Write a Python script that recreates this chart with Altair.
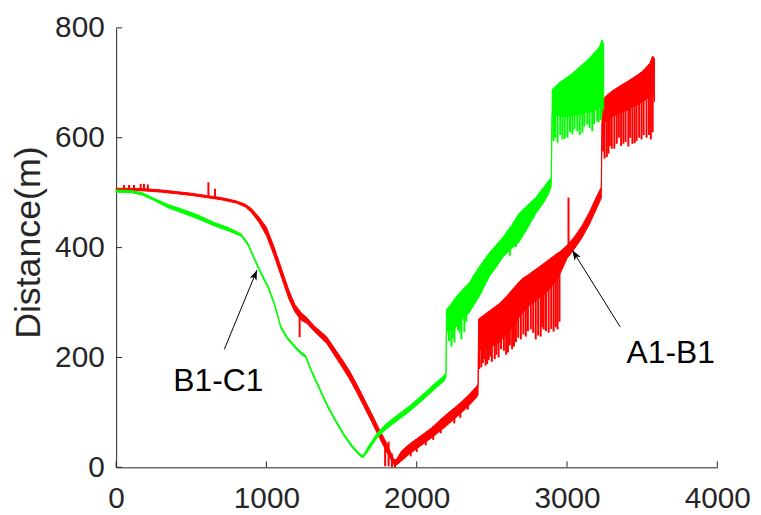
import math
import altair as alt
import pandas as pd

RED = "#FF0000"
GREEN = "#00FF00"
INK = "#262626"
FONT = "Liberation Sans"

# ---------------- A1-B1 (red) : band (upper / lower edge) ----------------
red_x = [0, 100, 200, 300, 400, 500, 600, 700, 800, 860, 900, 950, 1000, 1050, 1100, 1150, 1190, 1230,
         1270, 1320, 1400, 1450, 1500, 1550, 1600, 1650, 1700, 1750, 1800, 1855, 1900, 1950, 2000, 2050,
         2100, 2150, 2200, 2250, 2300, 2350, 2400, 2408,
         2412, 2450, 2500, 2550, 2600, 2650, 2700, 2750, 2800, 2850, 2900, 2950, 3000, 3050, 3100, 3150,
         3200, 3228, 3234, 3260, 3300, 3350, 3400, 3450, 3500, 3550, 3570, 3582]
red_top = [508, 508, 507, 505, 502, 499, 495, 491, 485, 479, 471, 456, 437, 402, 362, 322, 296, 282,
           272, 257, 238, 218, 198, 177, 152, 125, 98, 70, 44, 10, 30, 42, 52, 62,
           72, 85, 97, 108, 120, 133, 148, 152,
           270, 278, 288, 298, 312, 328, 343, 352, 362, 372, 382, 392, 404, 420, 440, 465,
           495, 510, 668, 676, 685, 694, 702, 711, 720, 735, 748, 745]
red_bot = [504, 504, 503, 501, 498, 495, 491, 487, 481, 474, 464, 446, 422, 386, 346, 306, 283, 268,
           262, 247, 226, 205, 184, 162, 137, 110, 83, 55, 28, 2, 12, 24, 34, 44,
           54, 65, 76, 88, 100, 113, 128, 132,
           215, 215, 220, 228, 242, 260, 280, 295, 305, 315, 330, 350, 380, 398, 418, 443,
           473, 490, 625, 630, 638, 645, 650, 658, 665, 675, 690, 665]

# red spikes: x, low end, high end
red_sp_x = [53, 86, 119, 163, 185, 211, 614, 658, 1221, 1790, 1813, 1835, 1856,
            1960, 2000, 2060, 2110, 2160, 2250, 2290, 2340,
            2416, 2430, 2440, 2449, 2458, 2469, 2478, 2489, 2500, 2519, 2530, 2545, 2561, 2580, 2595,
            2607, 2620, 2635, 2647, 2660, 2675, 2693, 2710, 2726, 2740, 2759, 2775, 2792, 2808, 2825,
            2835, 2845, 2860, 2878, 2895, 2911, 2925, 2937, 2950, 3010,
            3240, 3250, 3265, 3276, 3285, 3298, 3315, 3331, 3345, 3360, 3375, 3390, 3408, 3420, 3435,
            3450, 3463, 3480, 3496, 3510, 3529, 3545, 3558, 3570]
red_sp_lo = [505, 505, 505, 505, 505, 504, 494, 490, 237, 2, 2, 0, 0,
             20, 28, 40, 50, 62, 80, 90, 105,
             179, 182, 190, 197, 185, 188, 195, 202, 192, 197, 205, 200, 215, 212, 205,
             209, 222, 215, 220, 228, 236, 233, 242, 238, 248, 251, 245, 233, 240, 238,
             255, 251, 248, 245, 252, 247, 255, 251, 265, 400,
             575, 562, 565, 571, 585, 580, 580, 589, 600, 585, 589, 592, 584, 600, 589,
             590, 594, 600, 597, 605, 600, 605, 597, 610]
red_sp_hi = [514, 514, 514, 516, 516, 515, 519, 507, 275, 40, 47, 25, 15,
             40, 50, 60, 75, 85, 100, 112, 128,
             270, 272, 272, 275, 276, 280, 282, 283, 288, 290, 292, 296, 300, 305, 310,
             312, 316, 322, 325, 330, 335, 340, 345, 347, 350, 354, 357, 360, 362, 366,
             368, 370, 374, 378, 382, 385, 388, 390, 392, 491,
             668, 670, 672, 676, 680, 684, 687, 690, 692, 695, 698, 700, 703, 705, 706,
             710, 712, 716, 720, 724, 728, 733, 740, 748]

# ---------------- B1-C1 (green) ----------------
green_x = [0, 100, 172, 250, 350, 450, 548, 650, 750, 832, 880, 924, 970, 1010, 1050, 1076, 1096, 1140,
           1188, 1230, 1261, 1300, 1350, 1406, 1460, 1518, 1570, 1624, 1645, 1680, 1736, 1800, 1870,
           1954, 2050, 2130, 2178, 2195,
           2198, 2230, 2264, 2300, 2350, 2416, 2482, 2530, 2574, 2630, 2680, 2730, 2792, 2840, 2878,
           2895, 2902, 2944, 3000, 3036, 3080, 3122, 3160, 3188, 3215, 3234, 3244]
green_top = [505, 504, 500, 490, 478, 469, 459, 446, 436, 425, 407, 379, 352, 331, 302, 277, 257, 237,
             222, 210, 204, 177, 147, 114, 87, 60, 40, 24, 22, 39, 62, 80, 95,
             112, 135, 155, 166, 172,
             287, 298, 311, 322, 336, 365, 390, 405, 419, 440, 462, 475, 491, 508, 522,
             527, 688, 699, 710, 717, 728, 738, 748, 757, 765, 778, 770]
green_bot = [501, 500, 496, 486, 472, 462, 452, 440, 430, 421, 403, 375, 348, 327, 298, 273, 253, 233,
             218, 206, 200, 173, 143, 110, 83, 56, 36, 20, 18, 31, 54, 70, 85,
             102, 125, 145, 156, 164,
             246, 250, 256, 268, 282, 311, 347, 365, 383, 398, 410, 432, 462, 480, 498,
             512, 640, 640, 638, 640, 642, 645, 648, 650, 655, 660, 650]

green_sp_x = [2215, 2231, 2240, 2251, 2275, 2285, 2297, 2317, 2330, 2345, 2363, 2380, 2396, 2429, 2450,
              2470, 2515, 2540, 2600, 2620, 2660, 2700, 2750, 2780, 2850,
              2911, 2920, 2937, 2955, 2970, 2985, 3003, 3020, 3036, 3050, 3069, 3085, 3102, 3115, 3135,
              3150, 3168, 3180, 3201, 3210, 3223, 3230]
green_sp_lo = [230, 220, 235, 227, 250, 245, 233, 246, 265, 280, 291, 300, 311, 318, 330,
               340, 359, 370, 395, 385, 401, 420, 445, 455, 485,
               594, 600, 591, 605, 597, 598, 600, 610, 606, 615, 612, 605, 609, 620, 624,
               618, 612, 625, 630, 628, 632, 640]
green_sp_hi = [290, 260, 300, 262, 313, 315, 275, 280, 330, 334, 300, 350, 320, 330, 378,
               385, 370, 405, 430, 436, 420, 440, 480, 488, 510,
               690, 690, 695, 700, 702, 705, 708, 712, 716, 720, 722, 728, 730, 735, 740,
               745, 748, 752, 758, 760, 765, 775]

# ---------------- annotations ----------------
ann_text = ["B1-C1", "A1-B1"]
ann_tx = [680, 3690]
ann_ty = [157, 208]
arr_tail_x = [720, 3353]
arr_tail_y = [215, 256]
arr_tip_x = [937, 3036]
arr_tip_y = [359, 395]

x_ticks = [0, 1000, 2000, 3000, 4000]
y_ticks = [0, 200, 400, 600, 800]

W, H = 606, 443
XMAX, YMAX = 4000, 800

red_df = pd.DataFrame({"x": red_x, "top": red_top, "bot": red_bot})
red_sp = pd.DataFrame({"x": red_sp_x, "lo": red_sp_lo, "hi": red_sp_hi})
green_df = pd.DataFrame({"x": green_x, "top": green_top, "bot": green_bot})
green_sp = pd.DataFrame({"x": green_sp_x, "lo": green_sp_lo, "hi": green_sp_hi})

angles = []
for tx, ty, hx, hy in zip(arr_tail_x, arr_tail_y, arr_tip_x, arr_tip_y):
    dx = (hx - tx) * W / XMAX
    dy = -(hy - ty) * H / YMAX
    angles.append(math.degrees(math.atan2(dx, -dy)) % 360)
arr_df = pd.DataFrame({"x": arr_tail_x, "y": arr_tail_y, "x2": arr_tip_x, "y2": arr_tip_y, "ang": angles})
txt_df = pd.DataFrame({"x": ann_tx, "y": ann_ty, "t": ann_text})

xs = alt.Scale(domain=[0, XMAX], nice=False, zero=False)
ys = alt.Scale(domain=[0, YMAX], nice=False, zero=False)

X = alt.X("x:Q", scale=xs, title=None,
          axis=alt.Axis(values=x_ticks, format="d", ticks=False, labelPadding=16, grid=False,
                        labelFlush=False, labelOverlap=False,
                        labelFontSize=30, labelFont=FONT, labelColor=INK))
Y = alt.Y("top:Q", scale=ys, title="Distance(m)",
          axis=alt.Axis(values=y_ticks, format="d", ticks=False, labelPadding=12, grid=False,
                        labelFlush=False, labelOverlap=False,
                        labelFontSize=30, labelFont=FONT, labelColor=INK,
                        titleX=-88, titleY=216, titleAngle=270, titleAlign="center",
                        titleBaseline="middle", titleFontSize=36, titleFontWeight="normal",
                        titleColor=INK, titleFont=FONT))

red_band = alt.Chart(red_df).mark_area(color=RED, stroke=RED, strokeWidth=1.0).encode(
    x=X, y=Y, y2="bot:Q")
red_spk = alt.Chart(red_sp).mark_rule(color=RED, strokeWidth=2.0).encode(
    x=alt.X("x:Q", scale=xs), y=alt.Y("lo:Q", scale=ys), y2="hi:Q")
green_band = alt.Chart(green_df).mark_area(color=GREEN, stroke=GREEN, strokeWidth=1.0).encode(
    x=alt.X("x:Q", scale=xs), y=alt.Y("top:Q", scale=ys), y2="bot:Q")
green_spk = alt.Chart(green_sp).mark_rule(color=GREEN, strokeWidth=2.0).encode(
    x=alt.X("x:Q", scale=xs), y=alt.Y("lo:Q", scale=ys), y2="hi:Q")

arrow_line = alt.Chart(arr_df).mark_rule(color="black", strokeWidth=1).encode(
    x=alt.X("x:Q", scale=xs), y=alt.Y("y:Q", scale=ys), x2="x2:Q", y2="y2:Q")
arrow_head = alt.Chart(arr_df).mark_point(
    shape="M0,0 L0.55,1.5 L0,1.1 L-0.55,1.5 Z", filled=True, color="black", opacity=1, size=180,
    strokeWidth=0).encode(
    x=alt.X("x2:Q", scale=xs), y=alt.Y("y2:Q", scale=ys), angle=alt.Angle("ang:Q", scale=None))
labels = alt.Chart(txt_df).mark_text(font=FONT, fontSize=32, color="black", align="center",
                                     baseline="middle").encode(
    x=alt.X("x:Q", scale=xs), y=alt.Y("y:Q", scale=ys), text="t:N")

xt = pd.DataFrame({"v": x_ticks})
yt = pd.DataFrame({"v": y_ticks})
xtick = alt.Chart(xt).mark_rule(color=INK, strokeWidth=1).encode(
    x=alt.X("v:Q", scale=xs), y=alt.value(H), y2=alt.value(H - 6))
ytick = alt.Chart(yt).mark_rule(color=INK, strokeWidth=1).encode(
    y=alt.Y("v:Q", scale=ys), x=alt.value(0), x2=alt.value(6))

chart = alt.layer(red_band, red_spk, green_band, green_spk, arrow_line, arrow_head, labels,
                  xtick, ytick).properties(
    width=W, height=H, autosize="none", background="white",
    padding={"left": 109, "top": 18, "right": 36, "bottom": 46},
).configure_view(stroke=None).configure_axis(
    domainColor=INK, domainWidth=1, labelFont=FONT, labelFontSize=30, labelColor=INK,
)

chart.save("out.html", embed_options={"renderer": "svg", "actions": False})
